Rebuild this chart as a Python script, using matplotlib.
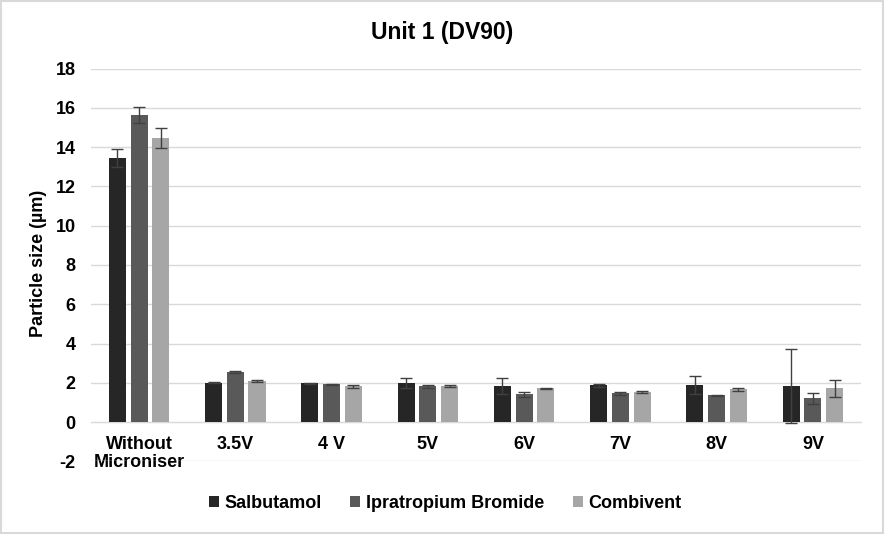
import matplotlib.pyplot as plt
import numpy as np

plt.rcParams['font.family'] = ['Liberation Sans', 'DejaVu Sans']
plt.rcParams['font.weight'] = 'bold'
plt.rcParams['axes.unicode_minus'] = False

categories = ['Without\nMicroniser', '3.5V', '4 V', '5V', '6V', '7V', '8V', '9V']
series = ['Salbutamol', 'Ipratropium Bromide', 'Combivent']
colors = ['#262626', '#595959', '#a6a6a6']

salbutamol = [13.45, 2.0, 1.98, 1.98, 1.83, 1.88, 1.88, 1.83]
salbutamol_err = [0.45, 0.02, 0.03, 0.26, 0.41, 0.08, 0.46, 1.89]
ipratropium = [15.65, 2.55, 1.93, 1.83, 1.42, 1.47, 1.37, 1.22]
ipratropium_err = [0.4, 0.07, 0.02, 0.07, 0.13, 0.07, 0.02, 0.29]
combivent = [14.45, 2.09, 1.83, 1.83, 1.73, 1.52, 1.68, 1.73]
combivent_err = [0.5, 0.05, 0.08, 0.05, 0.03, 0.05, 0.08, 0.43]

values = [salbutamol, ipratropium, combivent]
errors = [salbutamol_err, ipratropium_err, combivent_err]

fig = plt.figure(figsize=(8.84, 5.34), dpi=100)
ax = fig.add_axes([0.1029, 0.1358, 0.8711, 0.7359])

x = np.arange(len(categories))
width = 0.177
step = 0.225
for i, (vals, errs) in enumerate(zip(values, errors)):
    ax.bar(x + (i - 1) * step, vals, width, color=colors[i], label=series[i],
           yerr=errs, error_kw=dict(ecolor='#404040', elinewidth=1, capsize=4, capthick=1),
           zorder=3)

ax.set_xlim(-0.5, len(categories) - 0.5)
ax.set_ylim(-2, 18)
ax.set_yticks(np.arange(-2, 19, 2))
ax.yaxis.grid(True, color='#d9d9d9', linewidth=1, zorder=0)
for s in ['top', 'right', 'left']:
    ax.spines[s].set_visible(False)
ax.spines['bottom'].set_position(('data', 0))
ax.spines['bottom'].set_color('#d9d9d9')
ax.spines['bottom'].set_zorder(1)
ax.set_xticks(x)
ax.set_xticklabels(categories, fontsize=13, fontweight='bold', linespacing=1.05)
ax.tick_params(axis='both', length=0, labelsize=13)
ax.tick_params(axis='x', pad=10)
ax.tick_params(axis='y', pad=11)
for lab in ax.get_yticklabels():
    lab.set_fontweight('bold')

ax.set_ylabel('Particle size (µm)', fontsize=13, fontweight='bold')
ax.yaxis.set_label_coords(-0.057, 0.505)
fig.text(0.5, 0.94, 'Unit 1 (DV90)', ha='center', va='center', fontsize=16.5, fontweight='bold')

fig.legend(*ax.get_legend_handles_labels(), loc='center', bbox_to_anchor=(445 / 884, 1 - 503 / 534),
           ncol=3, frameon=False, handlelength=0.55, handleheight=0.55, handletextpad=0.3,
           columnspacing=1.6, prop={'weight': 'bold', 'size': 13})

fig.patches.append(plt.Rectangle((0.001, 0.001), 0.998, 0.998, transform=fig.transFigure,
                                 fill=False, edgecolor='#d9d9d9', linewidth=1.5))

fig.savefig('out.png', dpi=100)
